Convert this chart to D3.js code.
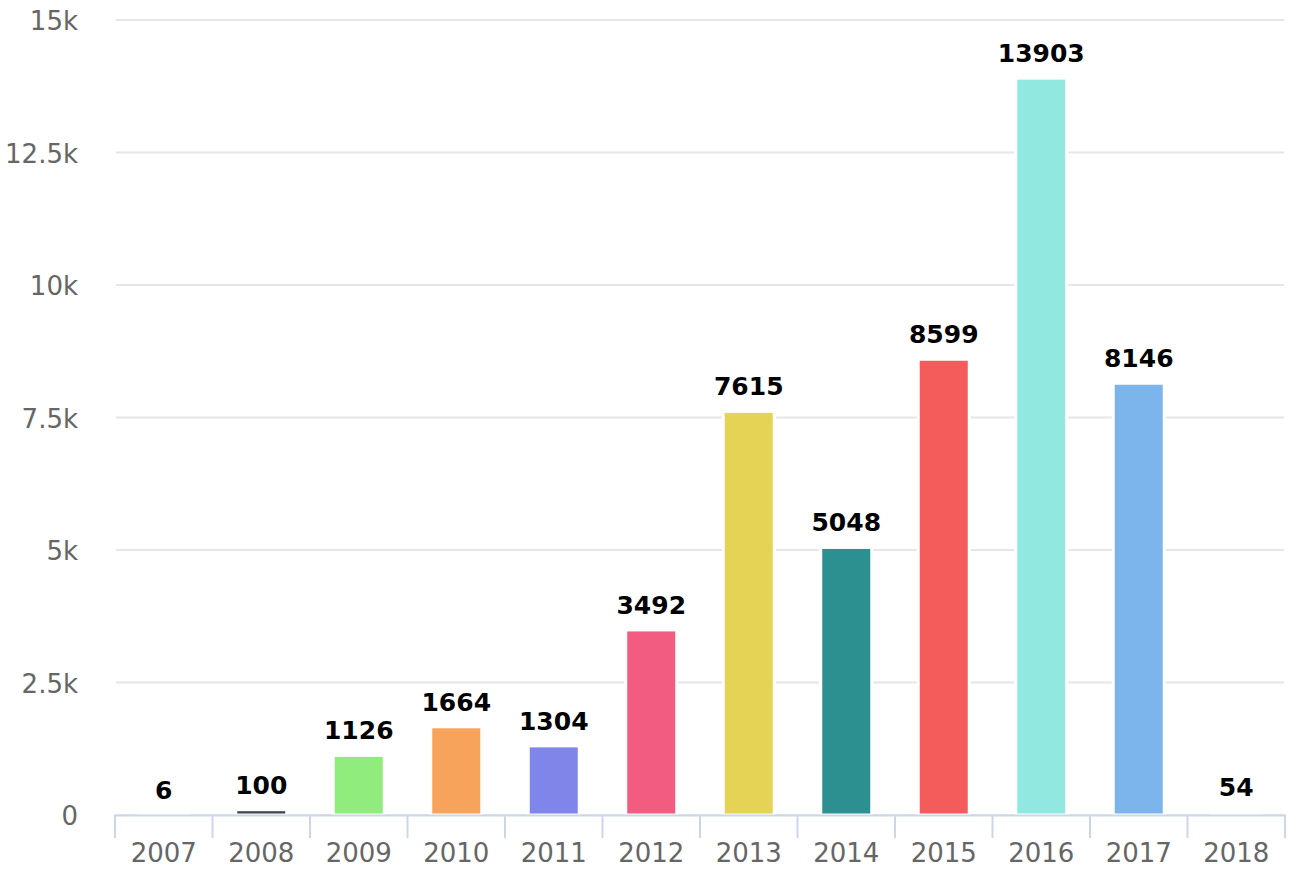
<!DOCTYPE html>
<html>
<head>
<meta charset="utf-8">
<script src="https://cdn.jsdelivr.net/npm/d3@7"></script>
<style>
  html, body { margin: 0; padding: 0; background: #ffffff; }
  svg { display: block; }
</style>
</head>
<body>
<svg id="chart" width="1296" height="872"></svg>
<script>
const categories = ["2007","2008","2009","2010","2011","2012","2013","2014","2015","2016","2017","2018"];
const values = [6, 100, 1126, 1664, 1304, 3492, 7615, 5048, 8599, 13903, 8146, 54];
const colors = ["#7cb5ec","#434348","#90ed7d","#f7a35c","#8085e9","#f15c80","#e4d354","#2b908f","#f45b5b","#91e8e1","#7cb5ec","#434348"];
const yTickValues = [0, 2500, 5000, 7500, 10000, 12500, 15000];
const yTickLabels = ["0", "2.5k", "5k", "7.5k", "10k", "12.5k", "15k"];

const svg = d3.select("#chart");
const font = "'DejaVu Sans', Verdana, sans-serif";

const x = d3.scaleBand().domain(categories).range([115, 1285]).paddingInner(0).paddingOuter(0);
const y = d3.scaleLinear().domain([0, 15000]).range([815, 20]);

// gridlines
svg.append("g").selectAll("line").data(yTickValues).join("line")
  .attr("x1", 116).attr("x2", 1284)
  .attr("y1", d => y(d)).attr("y2", d => y(d))
  .attr("stroke", "#e6e6e6").attr("stroke-width", 2);

// y labels
svg.append("g").selectAll("text").data(yTickValues).join("text")
  .attr("x", 78).attr("y", d => y(d) + 10)
  .attr("text-anchor", "end")
  .attr("font-family", font).attr("font-size", 26).attr("fill", "#666666")
  .text((d, i) => yTickLabels[i]);

// bars
const barW = 51;
svg.append("g").selectAll("rect").data(values).join("rect")
  .attr("x", (d, i) => x(categories[i]) + x.bandwidth() / 2 - barW / 2)
  .attr("width", barW)
  .attr("y", d => y(d))
  .attr("height", d => y(0) - y(d))
  .attr("fill", (d, i) => colors[i])
  .attr("stroke", "#ffffff").attr("stroke-width", 3);

// x axis line
svg.append("line")
  .attr("x1", 114).attr("x2", 1286)
  .attr("y1", 815.5).attr("y2", 815.5)
  .attr("stroke", "#ccd6eb").attr("stroke-width", 2);

// ticks at category boundaries
const boundaries = categories.map(c => x(c)).concat([x(categories[categories.length - 1]) + x.bandwidth()]);
svg.append("g").selectAll("line").data(boundaries).join("line")
  .attr("x1", d => d).attr("x2", d => d)
  .attr("y1", 815).attr("y2", 838)
  .attr("stroke", "#ccd6eb").attr("stroke-width", 2);

// x labels
svg.append("g").selectAll("text").data(categories).join("text")
  .attr("x", d => x(d) + x.bandwidth() / 2)
  .attr("y", 862)
  .attr("text-anchor", "middle")
  .attr("font-family", font).attr("font-size", 26).attr("fill", "#666666")
  .text(d => d);

// data labels
svg.append("g").selectAll("text").data(values).join("text")
  .attr("x", (d, i) => x(categories[i]) + x.bandwidth() / 2)
  .attr("y", d => y(d) - 16)
  .attr("text-anchor", "middle")
  .attr("font-family", font).attr("font-size", 25).attr("font-weight", "bold")
  .attr("fill", "#000000")
  .attr("stroke", "#ffffff").attr("stroke-width", 3).attr("paint-order", "stroke")
  .attr("stroke-linejoin", "round")
  .text(d => d);
</script>
</body>
</html>
